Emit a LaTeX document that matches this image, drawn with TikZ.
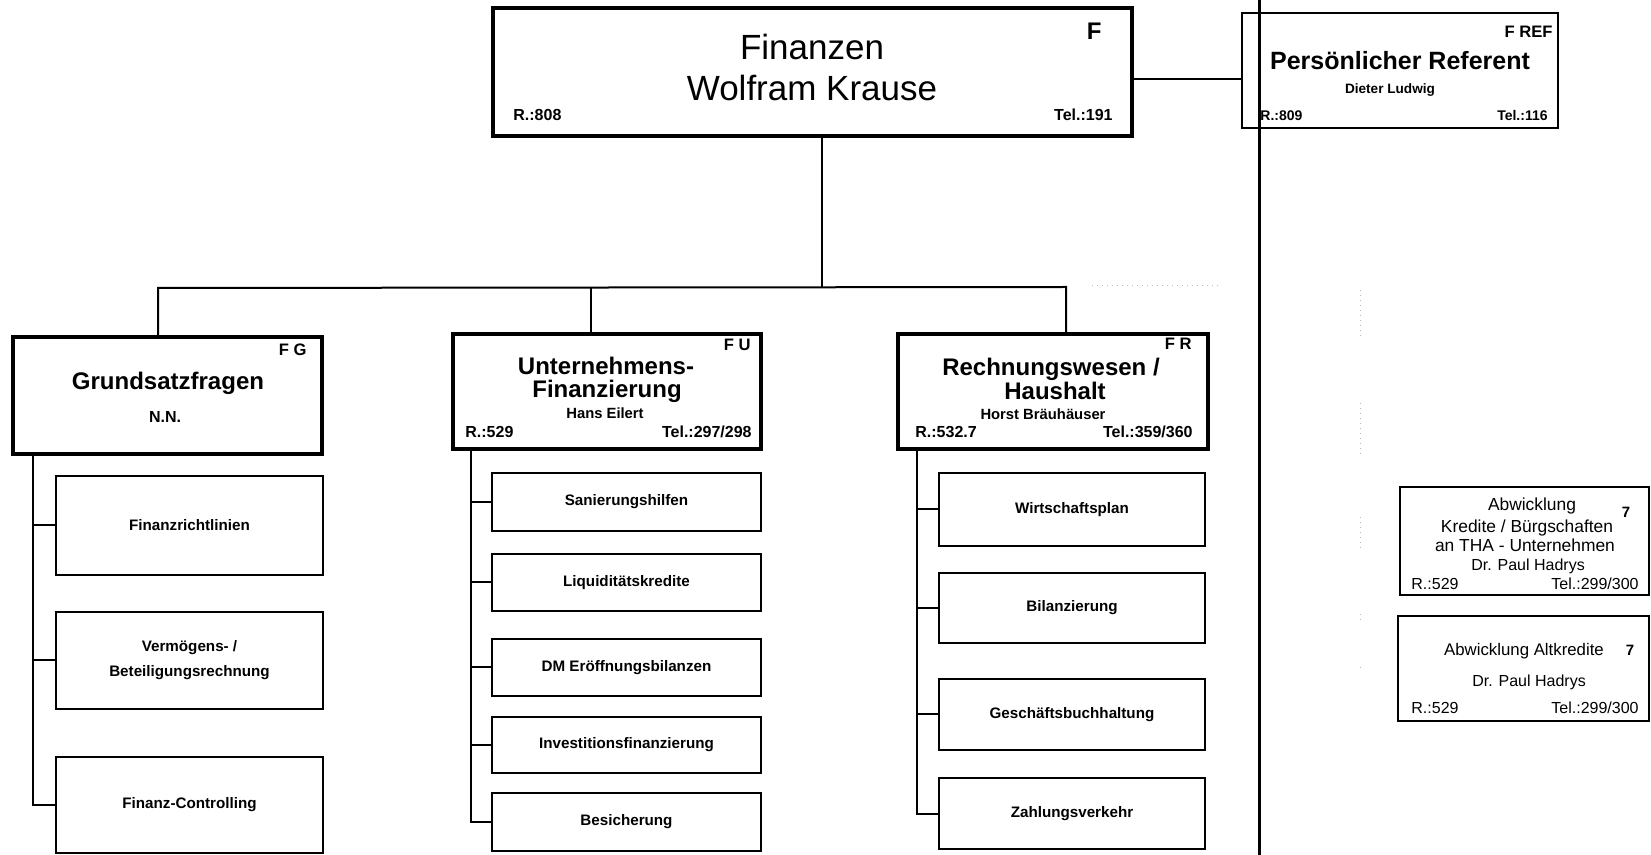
\documentclass[tikz,border=0pt]{standalone}
\usepackage{fontspec}
\setmainfont{Liberation Sans}
\usetikzlibrary{fit}
\newcommand\fsz[1]{\fontsize{#1}{#1}\selectfont}
\tikzset{
  headbox/.style={draw, line width=2pt, inner sep=0pt},
  subbox/.style={draw, line width=1pt, inner sep=0pt},
  itemtxt/.style={anchor=center, inner sep=0pt, align=center,
                  font=\bfseries\fontsize{7.6}{12.5}\selectfont},
  thinbox/.style={draw, line width=0.7pt, inner sep=0pt},
  conn/.style={line width=1pt},
  faint/.style={gray!55, line width=0.5pt, dotted},
  txt/.style={anchor=base, inner sep=0pt},
  code/.style={anchor=base east, inner sep=0pt, font=\bfseries\fsz{8.3}},
  room/.style={anchor=base west, inner sep=0pt, font=\bfseries\fsz{8}},
  tel/.style={anchor=base east, inner sep=0pt, font=\bfseries\fsz{8}},
  title/.style={txt, font=\bfseries\fsz{12}},
  person/.style={txt, font=\bfseries\fsz{7.4}},
  rhead/.style={txt, font=\fsz{8.7}},
  rsmall/.style={inner sep=0pt, font=\fsz{8}},
}
\begin{document}
\begin{tikzpicture}[x=0.5pt, y=-0.5pt]
\useasboundingbox (0,0) rectangle (1651,855);

% ---------- head of department ----------
\node[headbox, fit={(493,8) (1132,136)}] (top) {};
\node[txt, font=\fsz{17.5}] (topA) at (812,60) {Finanzen};
\node[txt, font=\fsz{17.5}] (topB) at (812,101) {Wolfram Krause};
\node[code, font=\bfseries\fsz{12}] (topC) at (1102,40) {F};
\node[room] (topR) at (513,121) {R.:808};
\node[tel] (topT) at (1113,121) {Tel.:191};

% ---------- personal assistant ----------
\node[thinbox, fit={(1242,13) (1558,128)}] (pr) {};
\node[code] (prC) at (1553,38) {F REF};
\node[txt, font=\bfseries\fsz{12.5}] (prA) at (1400,70) {Persönlicher Referent};
\node[person, font=\bfseries\fsz{6.8}] (prB) at (1390,94) {Dieter Ludwig};
\node[room, font=\bfseries\fsz{7}] (prR) at (1260,121) {R.:809};
\node[tel, font=\bfseries\fsz{7}] (prT) at (1548,121) {Tel.:116};

% ---------- divisions ----------
\node[headbox, fit={(13,337) (322,454)}] (fg) {};
\node[code] (fgC) at (307,356) {F G};
\node[title] (fgA) at (168,390) {Grundsatzfragen};
\node[person, font=\bfseries\fsz{8}] (fgB) at (165,423) {N.N.};

\node[headbox, fit={(453,334) (761,449)}] (fu) {};
\node[code] (fuC) at (751,351) {F U};
\node[title] (fuA) at (606,375) {Unternehmens-};
\node[title] (fuB) at (607,398) {Finanzierung};
\node[person] (fuD) at (605,419) {Hans Eilert};
\node[room] (fuR) at (465,438) {R.:529};
\node[tel] (fuT) at (752,438) {Tel.:297/298};

\node[headbox, fit={(898,334) (1208,449)}] (fr) {};
\node[code] (frC) at (1192,350) {F R};
\node[title] (frA) at (1051,376) {Rechnungswesen /};
\node[title] (frB) at (1055,400) {Haushalt};
\node[person] (frD) at (1043,420) {Horst Bräuhäuser};
\node[room] (frR) at (915,438) {R.:532.7};
\node[tel] (frT) at (1193,438) {Tel.:359/360};

% ---------- sections ----------
\node[subbox, fit={(56,476) (323,575)}] (fg1) {};
\node[subbox, fit={(56,612) (323,709)}] (fg2) {};
\node[subbox, fit={(56,757) (323,853)}] (fg3) {};
\node[itemtxt] (fg1t) at (fg1.center) {Finanzrichtlinien};
\node[itemtxt] (fg2t) at (fg2.center) {Vermögens- /\\Beteiligungsrechnung};
\node[itemtxt] (fg3t) at (fg3.center) {Finanz-Controlling};

\node[subbox, fit={(492,473) (761,531)}] (fu1) {};
\node[subbox, fit={(492,554) (761,611)}] (fu2) {};
\node[subbox, fit={(492,639) (761,696)}] (fu3) {};
\node[subbox, fit={(492,717) (761,773)}] (fu4) {};
\node[subbox, fit={(492,793) (761,851)}] (fu5) {};
\node[itemtxt] (fu1t) at (fu1.center) {Sanierungshilfen};
\node[itemtxt] (fu2t) at (fu2.center) {Liquiditätskredite};
\node[itemtxt] (fu3t) at (fu3.center) {DM Eröffnungsbilanzen};
\node[itemtxt] (fu4t) at (fu4.center) {Investitionsfinanzierung};
\node[itemtxt] (fu5t) at (fu5.center) {Besicherung};

\node[subbox, fit={(939,473) (1205,546)}] (fr1) {};
\node[subbox, fit={(939,573) (1205,643)}] (fr2) {};
\node[subbox, fit={(939,679) (1205,750)}] (fr3) {};
\node[subbox, fit={(939,778) (1205,849)}] (fr4) {};
\node[itemtxt] (fr1t) at (fr1.center) {Wirtschaftsplan};
\node[itemtxt] (fr2t) at (fr2.center) {Bilanzierung};
\node[itemtxt] (fr3t) at (fr3.center) {Geschäftsbuchhaltung};
\node[itemtxt] (fr4t) at (fr4.center) {Zahlungsverkehr};

% ---------- settlement units ----------
\node[thinbox, fit={(1400,487) (1649,595)}] (ra) {};
\node[rhead] (raA) at (1532,511) {Abwicklung};
\node[rhead] (raB) at (1527,533) {Kredite / Bürgschaften};
\node[rhead] (raC) at (1525,552) {an THA - Unternehmen};
\node[txt, font=\fsz{8}] (raD) at (1528,571) {Dr. Paul Hadrys};
\node[rsmall, anchor=base west] (raR) at (1411,590) {R.:529};
\node[rsmall, anchor=base east] (raT) at (1639,590) {Tel.:299/300};
\node[txt, font=\bfseries\fsz{7.5}] (raM) at (1626,518) {7};

\node[thinbox, fit={(1398,616) (1649,721)}] (rb) {};
\node[rhead, font=\fsz{8.4}] (rbA) at (1524,656) {Abwicklung Altkredite};
\node[txt, font=\bfseries\fsz{7.5}] (rbM) at (1630,656) {7};
\node[txt, font=\fsz{8}] (rbD) at (1529,687) {Dr. Paul Hadrys};
\node[rsmall, anchor=base west] (rbR) at (1411,713) {R.:529};
\node[rsmall, anchor=base east] (rbT) at (1639,713) {Tel.:299/300};

% ---------- connectors ----------
\coordinate (jc) at (822,287);
\coordinate (jl) at (158,288);
\coordinate (jm) at (591,287);
\coordinate (jr) at (1066,287);
\draw[conn] (jc |- top.south) -- (jc);
\draw[conn] (jl |- fg.north) -- (jl) -- (jr) -- (jr |- fr.north);
\draw[conn] (jm) -- (jm |- fu.north);

\coordinate (prj) at (1190,79);
\draw[conn] (prj -| top.east) -- (prj -| pr.west);

\coordinate (s1) at (33,0);
\draw[conn] (s1 |- fg.south) -- (s1 |- fg3.west) -- (fg3.west);
\foreach \b in {fg1,fg2} \draw[conn] (s1 |- \b.west) -- (\b.west);

\coordinate (s2) at (471,0);
\draw[conn] (s2 |- fu.south) -- (s2 |- fu5.west) -- (fu5.west);
\foreach \b in {fu1,fu2,fu3,fu4} \draw[conn] (s2 |- \b.west) -- (\b.west);

\coordinate (s3) at (917,0);
\draw[conn] (s3 |- fr.south) -- (s3 |- fr4.west) -- (fr4.west);
\foreach \b in {fr1,fr2,fr3} \draw[conn] (s3 |- \b.west) -- (\b.west);

% dividing rule
\coordinate (vt) at (1259,0);
\coordinate (vb) at (1259,855);
\draw[line width=1.5pt] (vt) -- (vb);

% faint dotted guide marks
\draw[faint] (1092,286) -- (1220,286);
\draw[faint] (1360,290) -- (1360,337);
\draw[faint] (1360,403) -- (1360,457);
\draw[faint] (1360,517) -- (1360,550);
\draw[faint] (1360,614) -- (1360,620);
\draw[faint] (1360,667) -- (1360,672);
\end{tikzpicture}
\end{document}
